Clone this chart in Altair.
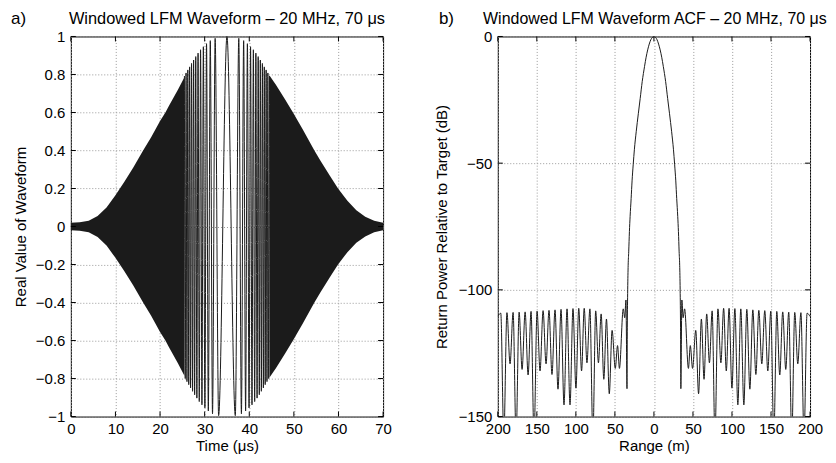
import altair as alt
import pandas as pd

FONT = "Liberation Sans"

# ---------------- Panel a) windowed LFM waveform ----------------
# offsets (us) of the individually visible extrema from the pulse centre (35 us)
peak_offsets = [0, 1.87, 2.65, 3.24, 3.74, 4.18, 4.58, 4.95, 5.29, 5.61, 5.92,
                6.21, 6.48, 6.75, 7.00, 7.25, 7.48, 7.71, 7.94, 8.16, 8.37,
                8.57, 8.78, 8.97, 9.17, 9.35, 9.54]
# signed value at each of those extrema
peak_values = [1.0, -0.995, 0.99, -0.985, 0.978, -0.97, 0.962, -0.954, 0.946,
               -0.938, 0.93, -0.921, 0.912, -0.903, 0.894, -0.885, 0.876,
               -0.867, 0.858, -0.849, 0.84, -0.832, 0.824, -0.816, 0.808,
               -0.80, 0.792]
# envelope of the densely oscillating (solid) parts
env_left_t = [0, 2, 4, 6, 8, 10, 11, 12, 14, 16.2, 18, 20, 21.2, 22, 24, 25.46]
env_left = [0.02, 0.022, 0.03, 0.055, 0.10, 0.165, 0.2, 0.235, 0.31, 0.4,
            0.47, 0.555, 0.6, 0.635, 0.72, 0.785]
env_right_t = [44.54, 46, 48, 49.8, 52, 54.6, 56, 58, 59.9, 62, 64, 66, 68, 70]
env_right = [0.795, 0.745, 0.67, 0.6, 0.51, 0.4, 0.345, 0.27, 0.2, 0.135,
             0.085, 0.052, 0.03, 0.02]

time_ticks = [0, 10, 20, 30, 40, 50, 60, 70]
amp_ticks = [-1, -0.8, -0.6, -0.4, -0.2, 0, 0.2, 0.4, 0.6, 0.8, 1]

# ---------------- Panel b) ACF (one side, mirrored) ----------------
acf_pos_range = [0, 2, 4, 6, 8, 10, 12, 15, 17.6, 20,
                 22.7, 25, 26.5, 28, 29.2, 30.5, 31.4, 32.3, 33.0, 33.6,
                 34.1, 34.5, 35.8, 37.4, 39.3, 44.2, 46.6, 49.5, 53.6, 57.2,
                 60.8, 64.2, 67.6, 71.1, 74.6, 78.2, 82.0, 85.8, 89.3, 92.7,
                 96.3, 99.9, 103.7, 107.5, 111.3, 115.2, 119.0, 122.9, 126.7, 130.6,
                 134.4, 138.2, 142.0, 145.9, 149.7, 153.6, 157.4, 161.2, 165.0, 168.9,
                 172.7, 176.6, 180.4, 184.3, 188.3, 192.3, 196.2, 200]
acf_pos_db = [0, -0.35, -1.3, -3.0, -5.3, -8.2, -11.8, -17.8, -24.5, -30.5,
              -37.6, -44.5, -50.4, -57, -64, -71, -77, -85, -90.3, -100,
              -115, -139, -104, -111, -107.5, -131, -122, -131, -116, -141,
              -111.5, -135.3, -109.5, -128.8, -108.3, -158, -107.5, -128.8, -107.3, -132,
              -107.3, -138.8, -107.4, -145.4, -107.5, -145.4, -107.7, -139.2, -107.9, -133.4,
              -108.1, -129.2, -108.2, -132, -108.4, -158, -108.5, -133.6, -108.7, -131.4,
              -108.8, -158, -108.9, -129.2, -109, -158, -109.2, -110.5]

range_ticks = [-200, -150, -100, -50, 0, 50, 100, 150, 200]
db_ticks = [-150, -100, -50, 0]

# ---------------- tables ----------------
line_df = pd.DataFrame({
    "t": [35 - o for o in reversed(peak_offsets[1:])] + [35 + o for o in peak_offsets],
    "v": list(reversed(peak_values[1:])) + peak_values,
})
area_df = pd.DataFrame({
    "t": env_left_t + env_right_t,
    "env": env_left + env_right,
    "side": ["L"] * len(env_left_t) + ["R"] * len(env_right_t),
})
acf_df = pd.DataFrame({
    "r": [-r for r in reversed(acf_pos_range[1:])] + acf_pos_range,
    "db": list(reversed(acf_pos_db[1:])) + acf_pos_db,
})

W, H = 313, 381
INK = "#1b1b1b"
TK = 5  # inward tick length (px)
TITLE_Y = -13

axis_common = dict(grid=True, ticks=False, domain=False,
                   labelFontSize=15, titleFontSize=15, titleFontWeight="normal",
                   labelColor="black", titleColor="black", labelFont=FONT,
                   titleFont=FONT, gridDash=[1, 2], gridColor="#9a9a9a",
                   gridWidth=1, labelFlush=False, labelOverlap=False,
                   format="~r")

# shared scales / axes per panel
sx_a = alt.Scale(domain=[0, 70], nice=False, zero=False)
sy_a = alt.Scale(domain=[-1, 1], nice=False, zero=False)
ax_a = alt.Axis(values=time_ticks, title="Time (μs)", labelPadding=5,
                titlePadding=2, **axis_common)
ay_a = alt.Axis(values=amp_ticks, title="Real Value of Waveform",
                labelPadding=6, titlePadding=7, **axis_common)

sx_b = alt.Scale(domain=[-200, 200], nice=False, zero=False)
sy_b = alt.Scale(domain=[-150, 0], nice=False, zero=False)
ax_b = alt.Axis(values=range_ticks, title="Range (m)",
                labelExpr="format(abs(datum.value), 'd')", labelPadding=5,
                titlePadding=2, **axis_common)
ay_b = alt.Axis(values=db_ticks, title="Return Power Relative to Target (dB)",
                labelPadding=6, titlePadding=9, **axis_common)


def inward_ticks(xfield, xvals, sx, ax, yfield, yvals, sy, ay):
    """MATLAB-style ticks pointing into the plot on all four sides."""
    xd = pd.DataFrame({xfield: xvals})
    yd = pd.DataFrame({yfield: yvals})
    rule = dict(color="black", strokeWidth=1)
    X = alt.X(f"{xfield}:Q", scale=sx, axis=ax)
    Y = alt.Y(f"{yfield}:Q", scale=sy, axis=ay)
    return [
        alt.Chart(xd).mark_rule(**rule).encode(x=X, y=alt.value(H), y2=alt.value(H - TK)),
        alt.Chart(xd).mark_rule(**rule).encode(x=X, y=alt.value(0), y2=alt.value(TK)),
        alt.Chart(yd).mark_rule(**rule).encode(y=Y, x=alt.value(0), x2=alt.value(TK)),
        alt.Chart(yd).mark_rule(**rule).encode(y=Y, x=alt.value(W), x2=alt.value(W - TK)),
    ]


area = alt.Chart(area_df).transform_calculate(neg="-datum.env").mark_area(
    color=INK, opacity=1, strokeWidth=0
).encode(
    x=alt.X("t:Q", scale=sx_a, axis=ax_a),
    y=alt.Y("env:Q", scale=sy_a, axis=ay_a),
    y2="neg:Q", detail="side:N",
)

wave = alt.Chart(line_df).mark_line(
    color=INK, strokeWidth=1, interpolate="monotone"
).encode(x=alt.X("t:Q", scale=sx_a, axis=ax_a), y=alt.Y("v:Q", scale=sy_a, axis=ay_a))

title_a = alt.Chart(pd.DataFrame({"s": ["Windowed LFM Waveform – 20 MHz, 70 μs"]})).mark_text(
    align="center", baseline="alphabetic", fontSize=16.4, font=FONT, color="black"
).encode(x=alt.value(W / 2), y=alt.value(TITLE_Y), text="s:N")
lab_a = alt.Chart(pd.DataFrame({"s": ["a)"]})).mark_text(
    align="left", baseline="alphabetic", fontSize=17, font=FONT, color="black"
).encode(x=alt.value(-60), y=alt.value(TITLE_Y), text="s:N")

left = alt.layer(
    area, wave,
    *inward_ticks("t", time_ticks, sx_a, ax_a, "v", amp_ticks, sy_a, ay_a),
    title_a, lab_a,
).properties(width=W, height=H)

acf = alt.Chart(acf_df).mark_line(
    color=INK, strokeWidth=1, interpolate="monotone", clip=True
).encode(x=alt.X("r:Q", scale=sx_b, axis=ax_b), y=alt.Y("db:Q", scale=sy_b, axis=ay_b))

title_b = alt.Chart(pd.DataFrame({"s": ["Windowed LFM Waveform ACF – 20 MHz, 70 μs"]})).mark_text(
    align="center", baseline="alphabetic", fontSize=16, font=FONT, color="black"
).encode(x=alt.value(W / 2 + 1), y=alt.value(TITLE_Y), text="s:N")
lab_b = alt.Chart(pd.DataFrame({"s": ["b)"]})).mark_text(
    align="left", baseline="alphabetic", fontSize=17, font=FONT, color="black"
).encode(x=alt.value(-59), y=alt.value(TITLE_Y), text="s:N")

right = alt.layer(
    acf,
    *inward_ticks("r", range_ticks, sx_b, ax_b, "db", db_ticks, sy_b, ay_b),
    title_b, lab_b,
).properties(width=W, height=H)

chart = alt.hconcat(left, right, spacing=41).properties(
    padding={"left": 2, "top": 0, "right": 0, "bottom": 0}
).configure(font=FONT).configure_view(stroke="black", strokeWidth=1).configure_axis(
    labelOverlap=False
)

chart.save("out.html", embed_options={"renderer": "svg", "actions": False})
